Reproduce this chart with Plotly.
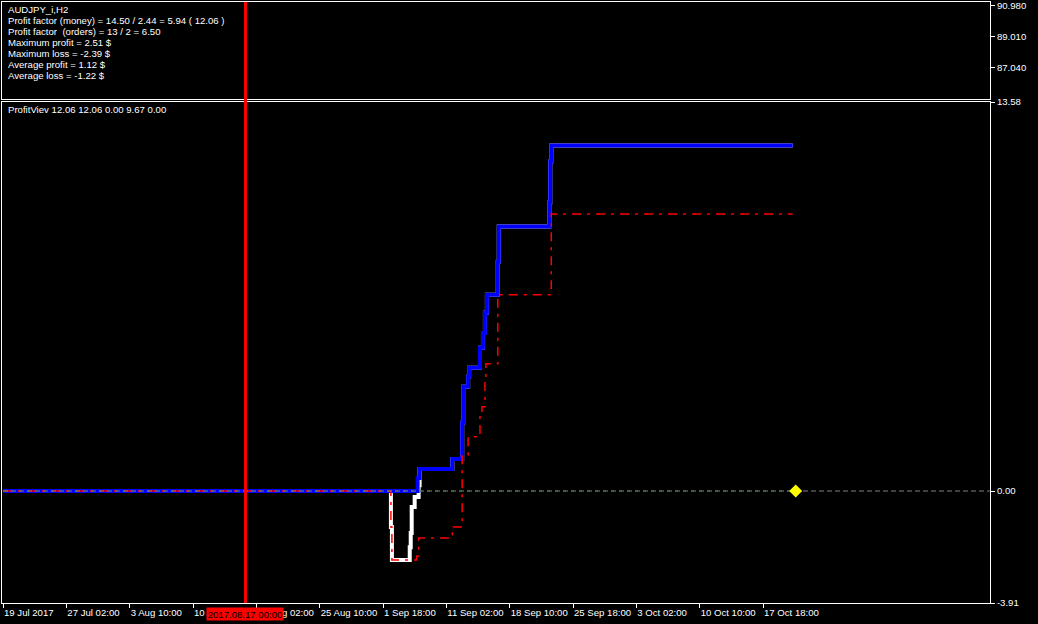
import plotly.graph_objects as go

# ---------------- data ----------------
stats_lines = [
    "AUDJPY_i,H2",
    "Profit factor (money) = 14.50 / 2.44 = 5.94 ( 12.06 )",
    "Profit factor  (orders) = 13 / 2 = 6.50",
    "Maximum profit = 2.51 $",
    "Maximum loss = -2.39 $",
    "Average profit = 1.12 $",
    "Average loss = -1.22 $",
]
indicator_label = "ProfitViev 12.06 12.06 0.00 9.67 0.00"

tick_bars = [0, 64, 128, 192, 256, 320, 384, 448, 512, 576, 640, 704, 768]
tick_labels = ["19 Jul 2017", "27 Jul 02:00", "3 Aug 10:00", "10 Aug 18:00",
               "18 Aug 02:00", "25 Aug 10:00", "1 Sep 18:00", "11 Sep 02:00",
               "18 Sep 10:00", "25 Sep 18:00", "3 Oct 02:00", "10 Oct 10:00",
               "17 Oct 18:00"]

price_ticks = [90.980, 89.010, 87.040]
price_range = [85.02, 91.20]
profit_ticks = [13.58, 0.00, -3.91]
profit_range = [-3.91, 13.58]

# balance (blue)
bal_x = [0, 419, 421, 454, 464, 465, 470, 471, 482, 485, 487, 489, 500, 501, 552, 553, 554, 798]
bal_y = [0, 0.45, 0.77, 1.12, 2.38, 3.64, 3.99, 4.30, 5.00, 5.52, 6.22, 6.85, 8.00, 9.23, 10.07, 11.50, 12.06, 12.06]
# equity (white)
eq_x = [0, 392, 393, 411, 412, 413, 416, 420, 421, 454, 464, 465, 470, 471, 482, 485, 487, 489, 500, 501, 552, 553, 554, 798]
eq_y = [0, -1.26, -2.41, -1.96, -1.47, -0.56, -0.21, 0.20, 0.77, 1.12, 2.38, 3.64, 3.99, 4.30, 5.00, 5.52, 6.22, 6.85, 8.00, 9.23, 10.07, 11.50, 12.06, 12.06]
# closed profit (red dash-dot)
red_x = [0, 392, 393, 418, 420, 454, 455, 464, 470, 482, 484, 487, 488, 500, 554, 798]
red_y = [0, -1.26, -2.41, -2.27, -1.64, -1.43, -1.26, 1.26, 1.89, 2.62, 2.94, 3.81, 4.44, 6.85, 9.67, 9.67]
# zero lines
green_x = [0, 798]
green_y = [0, 0]
zero_x = [0, 997]
zero_y = [0, 0]
marker_x = [801]
marker_y = [0.0]

cursor_bar = 245
cursor_label = "2017.08.17 00:00"

# ---------------- layout helpers ----------------
W, H = 1038, 624
ML, MR, MT, MB = 2, 48, 2, 21
PW = W - ML - MR
PH = H - MT - MB


def px_x(px):
    return (px - ML) / PW


def px_y(py):
    return (H - MB - py) / PH


FONT = "Liberation Sans"
FS = 9
FS_TXT = 9.6

fig = go.Figure()

fig.add_trace(go.Scatter(x=eq_x, y=eq_y, mode="lines", line=dict(color="#ffffff", width=4, shape="hv"),
                         xaxis="x", yaxis="y", showlegend=False, hoverinfo="skip"))
fig.add_trace(go.Scatter(x=bal_x, y=bal_y, mode="lines", line=dict(color="#0000ff", width=4, shape="hv"),
                         xaxis="x", yaxis="y", showlegend=False, hoverinfo="skip"))
fig.add_trace(go.Scatter(x=red_x, y=red_y, mode="lines",
                         line=dict(color="#ff0000", width=1.5, shape="hv", dash="9px,6px,3px,6px"),
                         xaxis="x", yaxis="y", showlegend=False, hoverinfo="skip"))
fig.add_trace(go.Scatter(x=green_x, y=green_y, mode="lines",
                         line=dict(color="#008000", width=1, dash="3px,5px"),
                         xaxis="x", yaxis="y", showlegend=False, hoverinfo="skip"))
fig.add_trace(go.Scatter(x=zero_x, y=zero_y, mode="lines",
                         line=dict(color="#808080", width=1, dash="5px,3px"),
                         xaxis="x", yaxis="y", showlegend=False, hoverinfo="skip"))
fig.add_trace(go.Scatter(x=marker_x, y=marker_y, mode="markers",
                         marker=dict(symbol="diamond", size=10, color="#ffff00", line=dict(width=0)),
                         xaxis="x", yaxis="y", showlegend=False, hoverinfo="skip"))
# invisible trace to activate top panel
fig.add_trace(go.Scatter(x=[None], y=[None], mode="lines", xaxis="x2", yaxis="y2",
                         showlegend=False, hoverinfo="skip"))

xrange = [(ML - 3) / 0.9896, (ML + PW - 3) / 0.9896]

axis_common = dict(showgrid=False, zeroline=False, showline=True, linecolor="#ffffff",
                   linewidth=1, mirror=True, tickfont=dict(color="#ffffff", size=FS_TXT, family=FONT),
                   tickcolor="#ffffff", ticklen=4, fixedrange=True, automargin=False, tickangle=0)

fig.update_layout(
    width=W, height=H,
    margin=dict(l=ML, r=MR, t=MT, b=MB, pad=0, autoexpand=False),
    paper_bgcolor="#000000", plot_bgcolor="#000000",
    font=dict(family=FONT, size=FS, color="#ffffff"),
    xaxis=dict(axis_common, range=xrange, domain=[0, 1], anchor="y",
               tickmode="array", tickvals=tick_bars, ticktext=tick_labels,
               ticks="outside", ticklabelposition="outside right"),
    yaxis=dict(axis_common, range=profit_range, domain=[0, px_y(102)], side="right", anchor="x",
               tickmode="array", tickvals=profit_ticks,
               ticktext=[f"{v:.2f}" for v in profit_ticks], ticks="outside"),
    xaxis2=dict(axis_common, range=xrange, domain=[0, 1], anchor="y2", matches="x",
                showticklabels=False, ticks=""),
    yaxis2=dict(axis_common, range=price_range, domain=[px_y(99), 1], side="right", anchor="x2",
                tickmode="array", tickvals=price_ticks,
                ticktext=[f"{v:.3f}" for v in price_ticks], ticks="outside"),
)

# cursor vertical line across both panels
fig.add_shape(type="line", xref="x", yref="paper", x0=cursor_bar, x1=cursor_bar, y0=0, y1=1,
              line=dict(color="#ff0000", width=3), layer="above")

annotations = []
for i, txt in enumerate(stats_lines):
    annotations.append(dict(text=txt, xref="paper", yref="paper", x=px_x(6), y=px_y(9.5 + 11 * i),
                            xanchor="left", yanchor="middle", showarrow=False,
                            font=dict(color="#ffffff", size=FS_TXT, family=FONT)))
annotations.append(dict(text=indicator_label, xref="paper", yref="paper", x=px_x(6), y=px_y(110),
                        xanchor="left", yanchor="middle", showarrow=False,
                        font=dict(color="#ffffff", size=FS_TXT, family=FONT)))
annotations.append(dict(text=cursor_label, xref="x", yref="paper", x=cursor_bar, y=px_y(614),
                        xanchor="center", yanchor="middle", showarrow=False, bgcolor="#ff0000",
                        width=76, height=12, borderpad=0,
                        font=dict(color="#000000", size=FS_TXT, family=FONT)))
fig.update_layout(annotations=annotations)

fig.write_html("out.html", config={"displayModeBar": False},
               post_script="document.body.style.margin='0px';")
